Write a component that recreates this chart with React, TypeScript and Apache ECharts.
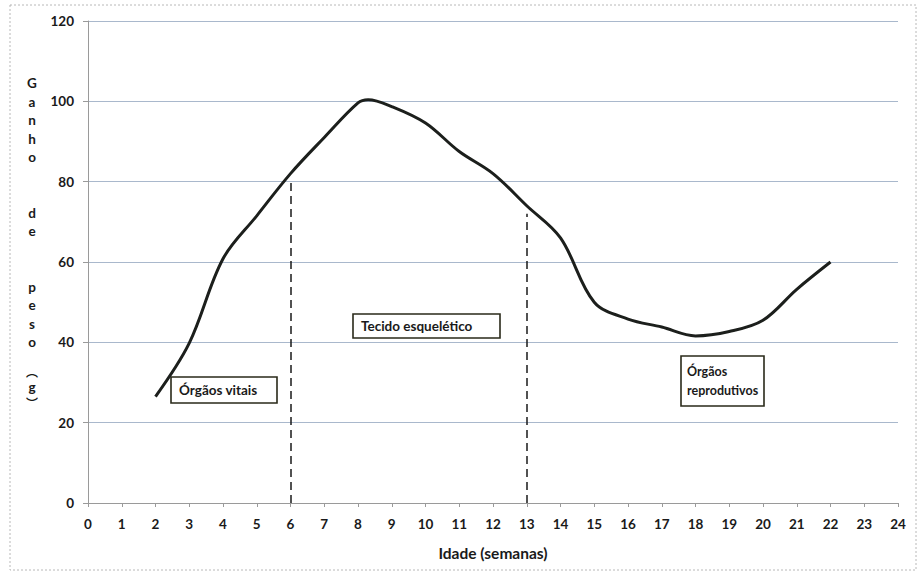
import React, { useEffect, useRef } from "react";
import * as echarts from "echarts";

const weeks = [2, 3, 4, 5, 6, 7, 8, 8.3, 9, 10, 11, 12, 13, 14, 15, 16, 17, 18, 19, 20, 21, 22];
const gain = [26.5, 39.8, 60.8, 71.5, 82, 91, 99.6, 100.4, 98.7, 94.6, 87.5, 82, 74, 66, 50, 45.8, 43.8, 41.6, 42.7, 45.5, 53.2, 60];
const phaseBounds = [6, 13];
const phaseTops = [80, 72];
const yAxisTitleLetters = ["G", "a", "n", "h", "o", "", "", "d", "e", "", "", "p", "e", "s", "o"];
const FONT = "Lato, 'Open Sans', sans-serif";
const CJK = "'Noto Sans CJK SC', sans-serif";

export default function App() {
  const ref = useRef<HTMLDivElement>(null);
  useEffect(() => {
    document.body.style.margin = "0";
    const chart = echarts.init(ref.current!, null, { renderer: "svg" });
    const data = weeks.map((w, i) => [w, gain[i]]);
    const markData = phaseBounds.map((b, i) => [
      { coord: [b, 0] },
      { coord: [b, phaseTops[i]] },
    ]);
    const box = (x: number, y: number, w: number, h: number, text: string, size: number, pad: number) => ({
      type: "group",
      children: [
        {
          type: "rect",
          shape: { x, y, width: w, height: h },
          style: { fill: "#fff", stroke: "#2a2a1a", lineWidth: 1.6 },
        },
        {
          type: "text",
          x: x + pad,
          y: y + h / 2,
          style: {
            text,
            fill: "#1a1a1a",
            font: `bold ${size}px ${FONT}`,
            verticalAlign: "middle",
            lineHeight: 19,
          },
        },
      ],
    });
    chart.setOption({
      animation: false,
      backgroundColor: "#fff",
      grid: { left: 88, right: 26, top: 21, bottom: 71 },
      xAxis: {
        type: "value",
        min: 0,
        max: 24,
        interval: 1,
        name: "Idade (semanas)",
        nameLocation: "middle",
        nameGap: 42,
        nameTextStyle: { fontFamily: FONT, fontWeight: "bold", fontSize: 15.5, color: "#1a1a1a" },
        axisLine: { lineStyle: { color: "#9a9a9a", width: 1 } },
        axisTick: { show: true, length: 4, lineStyle: { color: "#9a9a9a" } },
        axisLabel: { fontFamily: FONT, fontWeight: "bold", fontSize: 13.5, color: "#1a1a1a", margin: 14 },
        splitLine: { show: false },
      },
      yAxis: {
        type: "value",
        min: 0,
        max: 120,
        interval: 20,
        axisLine: { show: true, lineStyle: { color: "#9a9a9a", width: 1 } },
        axisTick: { show: true, length: 5, lineStyle: { color: "#9a9a9a" } },
        axisLabel: { fontFamily: FONT, fontWeight: "bold", fontSize: 13.5, color: "#1a1a1a", margin: 14 },
        splitLine: { lineStyle: { color: "#a9b8cc", width: 1 } },
      },
      series: [
        {
          type: "line",
          data,
          smooth: 0.35,
          symbol: "none",
          lineStyle: { color: "#1c1f1c", width: 3 },
          markLine: {
            silent: true,
            symbol: "none",
            label: { show: false },
            lineStyle: { color: "#1a1a1a", width: 1.5, type: [8, 5] },
            data: markData,
          },
        },
      ],
      graphic: [
        {
          type: "rect",
          shape: { x: 10, y: 5, width: 906, height: 565 },
          style: { fill: "none", stroke: "#b8b8b8", lineWidth: 1, lineDash: [2, 2] },
          silent: true,
        },
        {
          type: "text",
          x: 32,
          y: 74,
          style: {
            text: yAxisTitleLetters.join("\n"),
            fill: "#1a1a1a",
            font: `bold 13.5px ${FONT}`,
            align: "center",
            lineHeight: 18.5,
          },
        },
        {
          type: "text",
          x: 32,
          y: 371,
          style: { text: "︵", fill: "#1a1a1a", font: `bold 12px ${CJK}`, align: "center", verticalAlign: "middle" },
        },
        {
          type: "text",
          x: 32,
          y: 387,
          style: { text: "g", fill: "#1a1a1a", font: `bold 13.5px ${FONT}`, align: "center", verticalAlign: "middle" },
        },
        {
          type: "text",
          x: 32,
          y: 402,
          style: { text: "︶", fill: "#1a1a1a", font: `bold 12px ${CJK}`, align: "center", verticalAlign: "middle" },
        },
        box(171, 377, 106, 26, "Órgãos vitais", 13.5, 8),
        box(353, 314, 147, 24, "Tecido esquelético", 13.5, 8),
        box(681, 356, 83, 50, "Órgãos\nreprodutivos", 12.5, 6),
      ],
    });
    return () => chart.dispose();
  }, []);
  return <div ref={ref} style={{ width: 924, height: 574 }} />;
}
